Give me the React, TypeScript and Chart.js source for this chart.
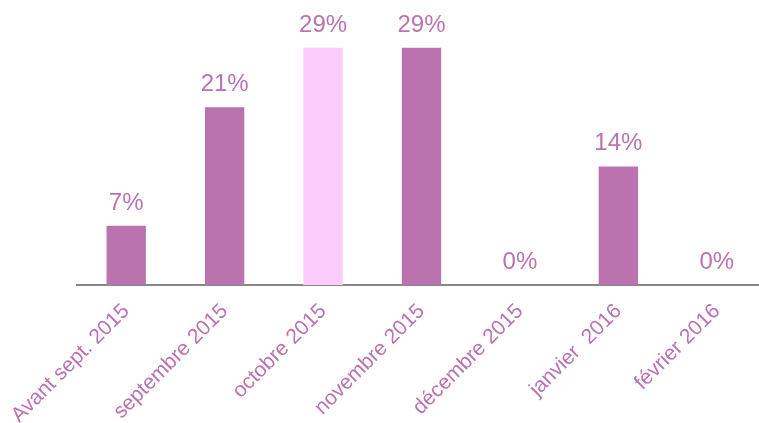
import React, { useEffect, useRef } from "react";
import { Chart, registerables } from "chart.js";

Chart.register(...registerables);

const categories = [
  "Avant sept. 2015",
  "septembre 2015",
  "octobre 2015",
  "novembre 2015",
  "décembre 2015",
  "janvier  2016",
  "février 2016",
];
const values = [7.14, 21.43, 28.57, 28.57, 0, 14.29, 0];
const barColors = ["#BB73B0", "#BB73B0", "#FCCCFF", "#BB73B0", "#BB73B0", "#BB73B0", "#BB73B0"];

const PURPLE = "#BB73B0";
const FONT = "'Liberation Sans', Arial, sans-serif";

const dataLabels = {
  id: "dataLabels",
  afterDatasetsDraw(chart: any) {
    const ctx = chart.ctx;
    const meta = chart.getDatasetMeta(0);
    ctx.save();
    ctx.fillStyle = PURPLE;
    ctx.font = `24px ${FONT}`;
    ctx.textAlign = "center";
    ctx.textBaseline = "alphabetic";
    meta.data.forEach((bar: any, i: number) => {
      const v = values[i];
      ctx.fillText(Math.round(v) + "%", bar.x, bar.y - 16);
    });
    ctx.restore();
  },
};

export default function App() {
  const ref = useRef<HTMLCanvasElement>(null);
  useEffect(() => {
    if (!ref.current) return;
    const chart = new Chart(ref.current, {
      type: "bar",
      data: {
        labels: categories,
        datasets: [
          {
            data: values,
            backgroundColor: barColors,
            barPercentage: 0.4,
            categoryPercentage: 1,
          },
        ],
      },
      options: {
        animation: false,
        responsive: true,
        maintainAspectRatio: false,
        layout: { padding: { left: 77, right: 4, top: 36, bottom: 0 } },
        plugins: {
          legend: { display: false },
          tooltip: { enabled: false },
        },
        scales: {
          x: {
            grid: { display: false },
            border: { display: true, color: "#878787", width: 2 },
            ticks: {
              color: PURPLE,
              font: { family: FONT, size: 21 },
              minRotation: 45,
              maxRotation: 45,
              padding: 6,
              autoSkip: false,
            },
            afterFit(scale: any) {
              scale.paddingLeft = 0;
              scale.paddingRight = 0;
              scale.height = 138;
            },
          },
          y: {
            display: false,
            min: 0,
            max: 30,
          },
        },
      },
      plugins: [dataLabels],
    });
    return () => chart.destroy();
  }, []);
  return (
    <div style={{ position: "fixed", left: 0, top: 0, width: 770, height: 423, background: "#fff" }}>
      <canvas ref={ref} />
    </div>
  );
}
